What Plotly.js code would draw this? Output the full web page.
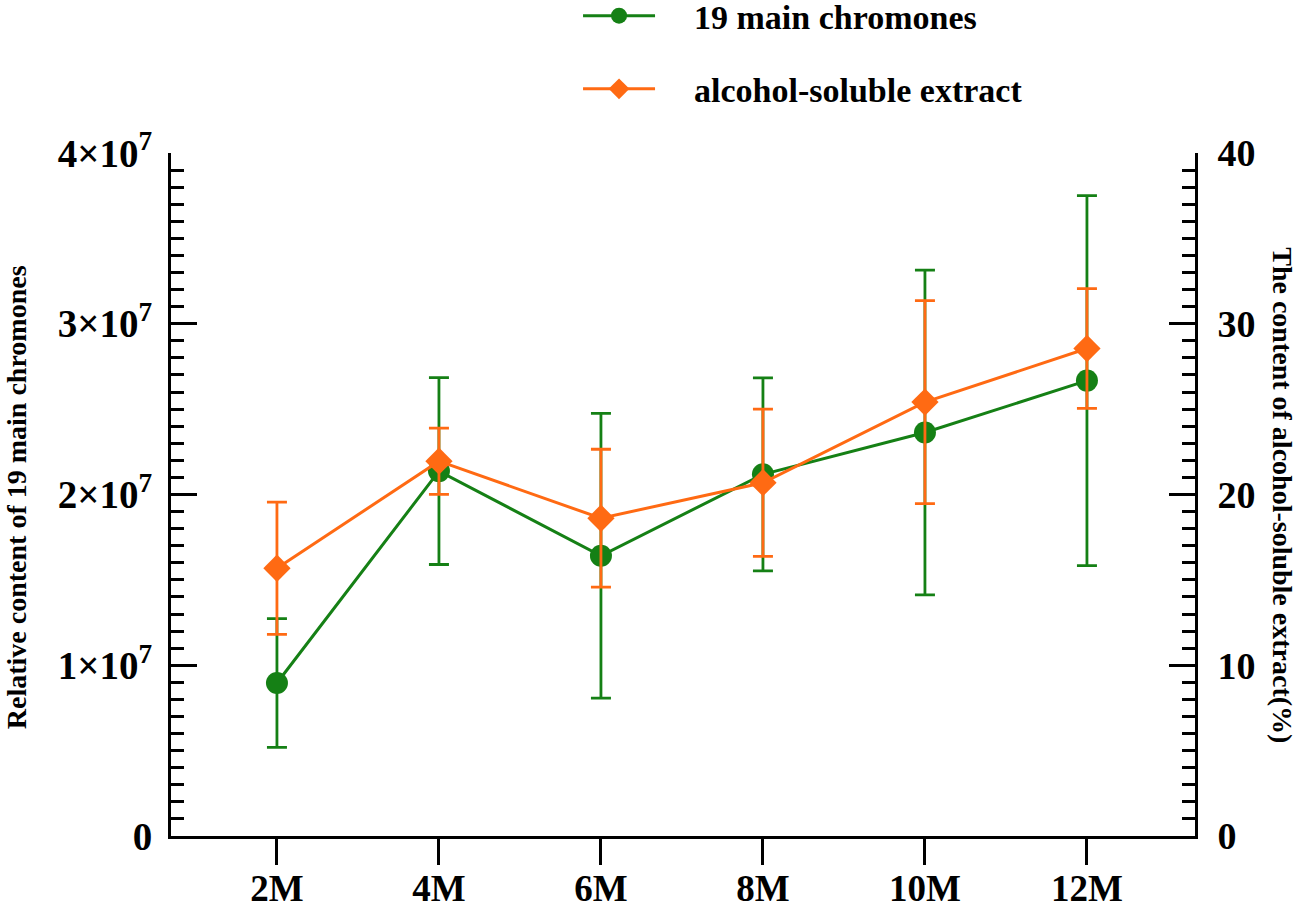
<!DOCTYPE html>
<html>
<head>
<meta charset="utf-8">
<script src="https://cdn.plot.ly/plotly-3.0.1.min.js"></script>
<style>
  html, body { margin: 0; padding: 0; background: #fff; }
  #plot { width: 1299px; height: 909px; }
</style>
</head>
<body>
<div id="plot"></div>
<script>
// sampling months
var months = ["2M", "4M", "6M", "8M", "10M", "12M"];

// relative content of 19 main chromones (left axis) and SD
var chromones = [0.896e7, 2.137e7, 1.641e7, 2.118e7, 2.363e7, 2.667e7];
var chromonesSD = [0.377e7, 0.547e7, 0.834e7, 0.565e7, 0.951e7, 1.083e7];

// alcohol-soluble extract, % (right axis) and SD
var extract = [15.68, 21.95, 18.61, 20.69, 25.41, 28.55];
var extractSD = [3.87, 1.94, 4.04, 4.31, 5.94, 3.51];

// left axis tick labels
var leftTickVals = [0, 1e7, 2e7, 3e7, 4e7];
var leftTickText = ["0", "1×10<sup>7</sup>", "2×10<sup>7</sup>", "3×10<sup>7</sup>", "4×10<sup>7</sup>"];

var green = "#158015";
var orange = "#ff6a13";
var serif = "Liberation Serif, Times New Roman, serif";
var pad = "\u00a0\u00a0\u00a0\u00a0";   // gap between legend symbol and text

var extractTrace = {
  x: months,
  y: extract,
  yaxis: "y2",
  name: pad + "alcohol-soluble extract",
  legendgroup: "b",
  legendrank: 2,
  type: "scatter",
  mode: "lines+markers",
  line: { color: orange, width: 3 },
  marker: { symbol: "diamond", size: 21, color: orange },
  error_y: { type: "data", array: extractSD, color: orange, thickness: 2.8, width: 10 }
};

var chromTrace = {
  x: months,
  y: chromones,
  name: pad + "19 main chromones",
  legendgroup: "a",
  legendrank: 1,
  type: "scatter",
  mode: "lines+markers",
  line: { color: green, width: 3 },
  marker: { symbol: "circle", size: 22, color: green },
  error_y: { type: "data", array: chromonesSD, color: green, thickness: 2.8, width: 10 }
};

var data = [extractTrace, chromTrace];

var layout = {
  width: 1299,
  height: 909,
  margin: { l: 171, r: 104, t: 153, b: 73, autoexpand: false },
  paper_bgcolor: "#fff",
  plot_bgcolor: "#fff",
  font: { family: serif, color: "#000" },
  showlegend: true,
  legend: {
    x: 0.3975, xanchor: "left",
    y: 1.243, yanchor: "top",
    itemwidth: 72,
    tracegroupgap: 26,
    font: { family: serif, size: 34, color: "#000", weight: "bold" },
    bgcolor: "rgba(0,0,0,0)"
  },
  xaxis: {
    range: [-0.654, 5.667],
    showline: true, linewidth: 3, linecolor: "#000",
    ticks: "outside", ticklen: 26, tickwidth: 3, tickcolor: "#000",
    showgrid: false, zeroline: false,
    ticklabelstandoff: -8,
    tickfont: { family: serif, size: 37, weight: "bold" }
  },
  yaxis: {
    range: [0, 4e7],
    tickvals: leftTickVals, ticktext: leftTickText,
    showline: true, linewidth: 3, linecolor: "#000",
    ticks: "inside", ticklen: 26, tickwidth: 3, tickcolor: "#000",
    minor: { dtick: 1e6, ticks: "inside", ticklen: 13, tickwidth: 3, tickcolor: "#000" },
    showgrid: false, zeroline: false,
    ticklabelstandoff: 8,
    tickfont: { family: serif, size: 39, weight: "bold" }
  },
  yaxis2: {
    range: [0, 40],
    overlaying: "y", side: "right",
    tickvals: [0, 10, 20, 30, 40],
    showline: true, linewidth: 3, linecolor: "#000",
    ticks: "inside", ticklen: 26, tickwidth: 3, tickcolor: "#000",
    minor: { dtick: 1, ticks: "inside", ticklen: 13, tickwidth: 3, tickcolor: "#000" },
    showgrid: false, zeroline: false,
    ticklabelstandoff: 12,
    tickfont: { family: serif, size: 38, weight: "bold" }
  },
  annotations: [
    {
      text: "Relative content of 19 main chromones",
      xref: "paper", yref: "paper",
      x: -0.1514, y: 0.496, xanchor: "center", yanchor: "middle",
      textangle: -90, showarrow: false, borderpad: 0,
      font: { family: serif, size: 28, weight: "bold", color: "#000" }
    },
    {
      text: "The content of alcohol-soluble extract(%)",
      xref: "paper", yref: "paper",
      x: 1.0859, y: 0.499, xanchor: "center", yanchor: "middle",
      textangle: 90, showarrow: false, borderpad: 0,
      font: { family: serif, size: 28, weight: "bold", color: "#000" }
    }
  ]
};

Plotly.newPlot("plot", data, layout, { displayModeBar: false, staticPlot: true });
</script>
</body>
</html>
